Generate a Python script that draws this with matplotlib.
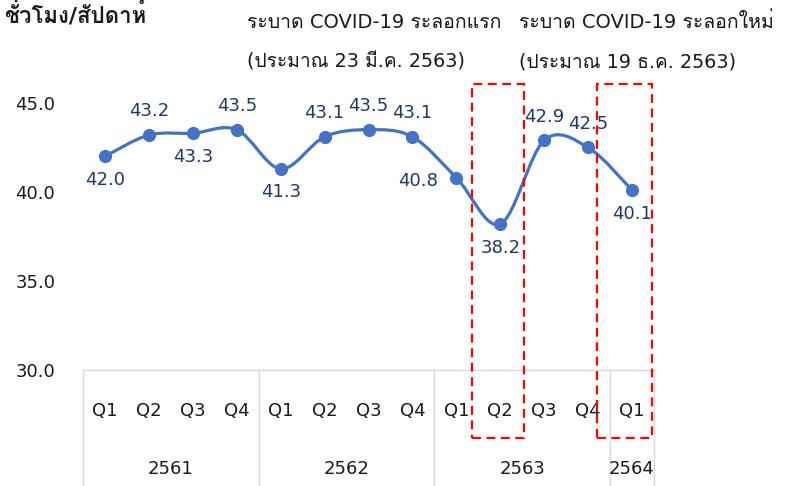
import matplotlib
matplotlib.use("Agg")
import matplotlib.pyplot as plt
from matplotlib.path import Path
from matplotlib.patches import PathPatch, Rectangle
from matplotlib import font_manager as fm
from matplotlib.ft2font import FT2Font
import numpy as np

# ---------------- data ----------------
quarters = ["Q1", "Q2", "Q3", "Q4", "Q1", "Q2", "Q3", "Q4", "Q1", "Q2", "Q3", "Q4", "Q1"]
years = ["2561", "2562", "2563", "2564"]
year_counts = [4, 4, 4, 1]
hours = [42.0, 43.2, 43.3, 43.5, 41.3, 43.1, 43.5, 43.1, 40.8, 38.2, 42.9, 42.5, 40.1]
label_pos = ["below", "above", "below", "above", "below", "above", "above", "above",
             "left", "below", "above", "above", "below"]
yticks = [30.0, 35.0, 40.0, 45.0]
title = "ชั่วโมง/สัปดาห์"
note1 = ["ระบาด COVID-19 ระลอกแรก", "(ประมาณ 23 มี.ค. 2563)"]
note2 = ["ระบาด COVID-19 ระลอกใหม่", "(ประมาณ 19 ธ.ค. 2563)"]

# ---------------- fonts ----------------
def find_thai_font():
    for f in fm.fontManager.ttflist:
        try:
            ft = FT2Font(f.fname)
            if 0x0E23 in ft.get_charmap():
                return f.name
        except Exception:
            pass
    return None

thai = find_thai_font()
fams = ["DejaVu Sans"] + ([thai] if thai else [])
plt.rcParams["font.family"] = fams

W, H = 792, 486
fig = plt.figure(figsize=(W / 100, H / 100), dpi=100)

# axes placed in pixel terms
x0, x1 = 83, 654
ytop, ybot = 103, 370
ax = fig.add_axes([x0 / W, (H - ybot) / H, (x1 - x0) / W, (ybot - ytop) / H])
n = len(hours)
ax.set_xlim(-0.5, n - 0.5)
ax.set_ylim(30, 45)
for s in ["top", "right", "left"]:
    ax.spines[s].set_visible(False)
ax.spines["bottom"].set_color("#D9D9D9")
ax.spines["bottom"].set_linewidth(1.0)
ax.set_xticks([])
ax.set_yticks(yticks)
ax.set_yticklabels([f"{v:.1f}" for v in yticks], fontsize=13, color="#1a1a1a")
ax.tick_params(axis="y", length=0, pad=20)

# smooth line (Excel-like Catmull-Rom bezier)
xs = np.arange(n, dtype=float)
ys = np.array(hours)
verts = [(xs[0], ys[0])]
codes = [Path.MOVETO]
for i in range(n - 1):
    p0 = np.array([xs[max(i - 1, 0)], ys[max(i - 1, 0)]])
    p1 = np.array([xs[i], ys[i]])
    p2 = np.array([xs[i + 1], ys[i + 1]])
    p3 = np.array([xs[min(i + 2, n - 1)], ys[min(i + 2, n - 1)]])
    c1 = p1 + (p2 - p0) / 6.0
    c2 = p2 - (p3 - p1) / 6.0
    verts += [tuple(c1), tuple(c2), tuple(p2)]
    codes += [Path.CURVE4] * 3
ax.add_patch(PathPatch(Path(verts, codes), facecolor="none", edgecolor="#4472C4",
                       lw=2.3, capstyle="round", joinstyle="round", zorder=3))
ax.plot(xs, ys, linestyle="none", marker="o", markersize=8.5, color="#4472C4", zorder=4)

lab_col = "#203864"
for xi, yi, pos in zip(xs, ys, label_pos):
    if pos == "above":
        off, ha = (0, 17), "center"
    elif pos == "below":
        off, ha = (0, -17), "center"
    else:
        off, ha = (-13, -2), "right"
    ax.annotate(f"{yi:.1f}", (xi, yi), xytext=off, textcoords="offset points",
                ha=ha, va="center", fontsize=13, color=lab_col, zorder=5)

# category axis (two levels)
tr = fig.transFigure
def fx(px):
    return px / W
def fy(py):
    return (H - py) / H

cat_w = (x1 - x0) / n
for i, q in enumerate(quarters):
    fig.text(fx(x0 + cat_w * (i + 0.5)), fy(411), q, ha="center", va="center",
             fontsize=13, color="#1a1a1a")
bounds = [0]
for c in year_counts:
    bounds.append(bounds[-1] + c)
for b in bounds:
    px = x0 + cat_w * b
    fig.add_artist(plt.Line2D([fx(px), fx(px)], [fy(ybot), 0], transform=tr,
                              color="#D9D9D9", lw=1.0))
for yr, a, b in zip(years, bounds[:-1], bounds[1:]):
    fig.text(fx(x0 + cat_w * (a + b) / 2), fy(469), yr, ha="center", va="center",
             fontsize=13, color="#1a1a1a")

# red dashed boxes
for (bx0, bx1) in [(472, 524), (597, 652)]:
    r = Rectangle((fx(bx0), fy(438)), fx(bx1) - fx(bx0), fy(84) - fy(438),
                  transform=tr, fill=False, edgecolor="#FF0000", lw=1.6,
                  linestyle=(0, (4, 2.5)), zorder=6)
    fig.add_artist(r)

# annotation texts
for (tx, lines) in [(247, note1), (519, note2)]:
    fig.text(fx(tx), fy(22), lines[0], ha="left", va="center", fontsize=14, color="#1a1a1a")
    fig.text(fx(tx), fy(62), lines[1], ha="left", va="center", fontsize=13.8, color="#1a1a1a")

fig.text(fx(4), fy(1), title, ha="left", va="top", fontsize=16,
         fontweight="bold", color="#1a1a1a")

fig.savefig("out.png", dpi=100)
